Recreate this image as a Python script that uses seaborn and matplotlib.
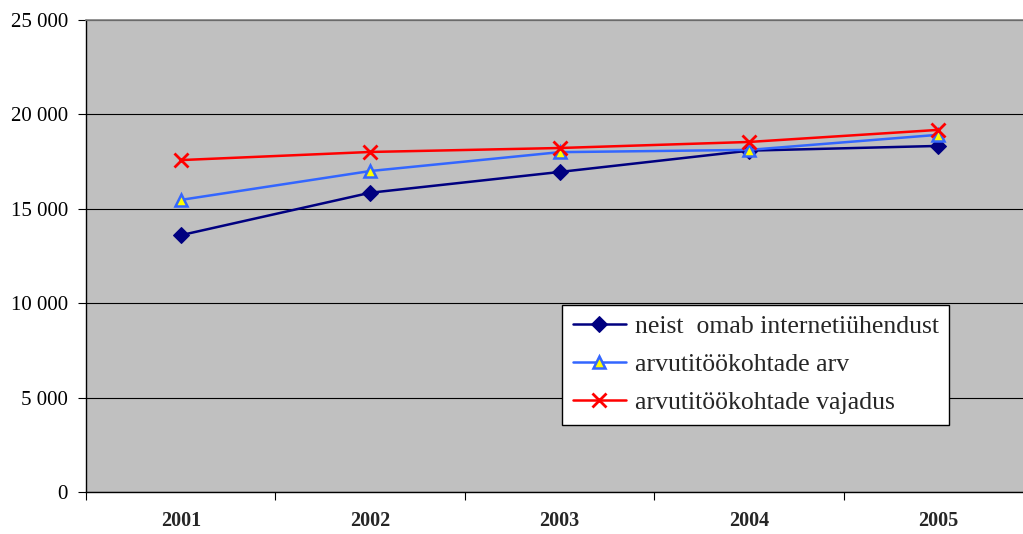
import numpy as np
import pandas as pd
import matplotlib
matplotlib.use("Agg")
import matplotlib.pyplot as plt
from matplotlib.ticker import FuncFormatter, FixedLocator
import seaborn as sns

# andmed (loetud pildilt)
aastad = ["2001", "2002", "2003", "2004", "2005"]
internet = [13600, 15850, 16950, 18080, 18330]
arvutid = [15470, 17000, 18000, 18120, 18920]
vajadus = [17580, 18010, 18220, 18540, 19180]

nimed = ["neist  omab internetiühendust", "arvutitöökohtade arv", "arvutitöökohtade vajadus"]

sns.set_style("ticks")
plt.rcParams["font.family"] = ["Liberation Serif", "DejaVu Serif"]

fig = plt.figure(figsize=(10.23, 5.34), dpi=100)
ax = fig.add_axes([86 / 1023, 42 / 534, 947 / 1023, 472 / 534])
ax.set_facecolor("#C0C0C0")

x = np.arange(len(aastad))

sns.lineplot(x=x, y=internet, ax=ax, color="#000080", linewidth=1.8,
             marker="D", markersize=8, markerfacecolor="#000080",
             markeredgecolor="#000080", label=nimed[0])
sns.lineplot(x=x, y=arvutid, ax=ax, color="#3366FF", linewidth=1.8,
             marker="^", markersize=9, markerfacecolor="#FFFF00",
             markeredgecolor="#3366FF", markeredgewidth=1.8, label=nimed[1])
sns.lineplot(x=x, y=vajadus, ax=ax, color="#FF0000", linewidth=1.8,
             marker="x", markersize=10, markeredgewidth=2,
             markeredgecolor="#FF0000", label=nimed[2])

ax.set_xlim(-0.5, len(aastad) - 0.5)
ax.set_ylim(0, 25000)

# y-telg
ax.yaxis.set_major_locator(FixedLocator(np.arange(0, 25001, 5000)))
ax.yaxis.set_major_formatter(FuncFormatter(lambda v, p: f"{int(v):,}".replace(",", " ")))
ax.tick_params(axis="y", length=6, width=0.8, pad=7, labelsize=15, colors="black", direction="out")
ax.yaxis.grid(True, color="black", linewidth=0.8)
ax.xaxis.grid(False)

# x-telg
ax.set_xticks(x)
ax.set_xticklabels(aastad, fontweight="bold")
ax.set_xticks(np.arange(-0.5, len(aastad), 1), minor=True)
ax.tick_params(axis="x", which="major", length=0, pad=14, labelsize=14.5)
ax.tick_params(axis="x", which="minor", length=6, width=0.8, direction="out", color="black")

for s in ["left", "bottom"]:
    ax.spines[s].set_color("black")
    ax.spines[s].set_linewidth(1)
ax.spines["top"].set_color("#808080")
ax.spines["top"].set_linewidth(1.2)
ax.spines["right"].set_visible(False)

leg = ax.legend(loc="lower left", bbox_to_anchor=(0.5026, 0.142), borderaxespad=0,
                fontsize=18.5, frameon=True, fancybox=False, framealpha=1,
                edgecolor="black", handlelength=2.06, labelspacing=0.58,
                borderpad=0.42, handletextpad=0.35)
leg.get_frame().set_linewidth(1)
leg.get_frame().set_facecolor("white")

ax.set_xlabel("")
ax.set_ylabel("")

fig.savefig("out.png", dpi=100)
